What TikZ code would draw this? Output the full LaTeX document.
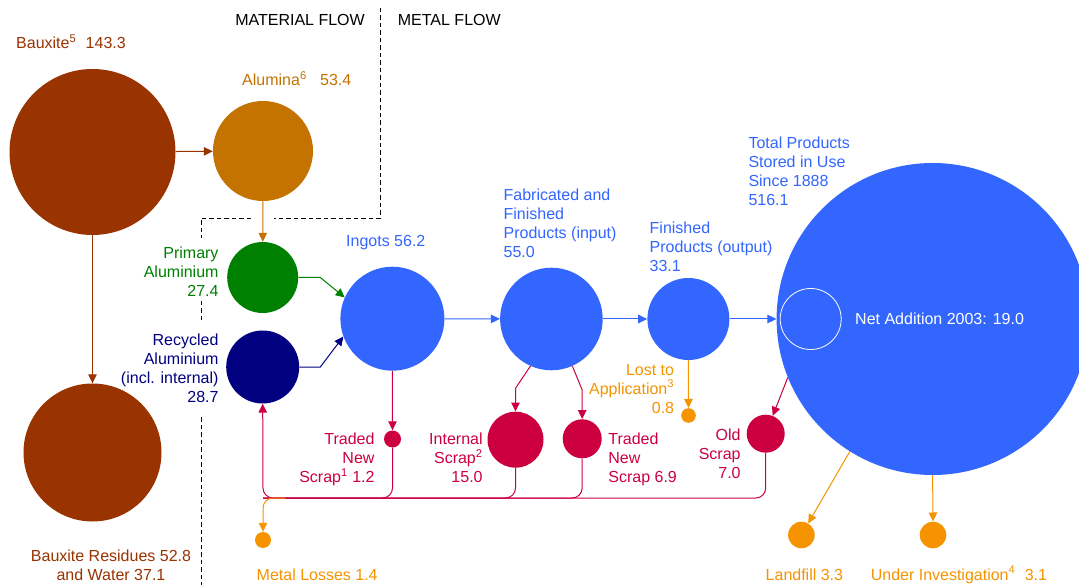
\documentclass[tikz,border=0pt]{standalone}
\usepackage{fontspec}
\setmainfont{Liberation Sans}
\usetikzlibrary{arrows.meta}

\definecolor{bauxitebrown}{HTML}{993300}
\definecolor{aluminaochre}{HTML}{C47200}
\definecolor{primarygreen}{HTML}{008000}
\definecolor{recyclednavy}{HTML}{000080}
\definecolor{metalblue}{HTML}{3366FF}
\definecolor{scrapred}{HTML}{CC0040}
\definecolor{lossorange}{HTML}{F59400}

\begin{document}
\begin{tikzpicture}[x=1pt,y=-1pt,
  font=\fontsize{16}{19}\selectfont,
  pool/.style={circle, draw=none, inner sep=0pt},
  flow/.style={line width=1pt, -{Triangle[length=9pt,width=8.5pt]}},
  link/.style={line width=1pt},
  lbl/.style={inner sep=0pt},
  divider/.style={line width=0.8pt, dash pattern=on 4.5pt off 3pt}]

\fill[white] (0,0) rectangle (1079,585);
\useasboundingbox (0,0) rectangle (1079,585);

% ---- divider between material flow and metal flow
\draw[divider] (380.5,8) -- (380.5,218) -- (274,218);
\draw[divider] (251,218) -- (201,218) -- (201,238);
\draw[divider] (201,301) -- (201,320);
\draw[divider] (201,417) -- (201,585);
\node[lbl, anchor=base east] (matflow) at (365,26) {MATERIAL FLOW};
\node[lbl, anchor=base west] (metflow) at (397.7,26) {METAL FLOW};

% ---- pools
\node[pool, fill=bauxitebrown, minimum size=166pt] (bauxite) at (92.5,152) {};
\node[pool, fill=aluminaochre, minimum size=100pt] (alumina) at (263,151) {};
\node[pool, fill=primarygreen, minimum size=71pt] (primary) at (262.7,277.5) {};
\node[pool, fill=recyclednavy, minimum size=73pt] (recycled) at (262.7,367) {};
\node[pool, fill=bauxitebrown, minimum size=138pt] (residues) at (92.5,452.5) {};
\node[pool, fill=metalblue, minimum size=104pt] (ingots) at (392.4,318.7) {};
\node[pool, fill=metalblue, minimum size=102.6pt] (fab) at (551.4,319) {};
\node[pool, fill=metalblue, minimum size=82pt] (finished) at (688.4,319) {};
\node[pool, fill=metalblue, minimum size=312pt] (stored) at (932.6,319) {};
\node[pool, draw=white, line width=0.8pt, minimum size=61pt] (netadd) at (810.7,319) {};
\node[pool, fill=scrapred, minimum size=17pt] (tradedA) at (392.5,439) {};
\node[pool, fill=scrapred, minimum size=56pt] (internal) at (515.5,439.7) {};
\node[pool, fill=scrapred, minimum size=39pt] (tradedB) at (582.2,438.8) {};
\node[pool, fill=lossorange, minimum size=14.6pt] (lost) at (688.5,415.5) {};
\node[pool, fill=scrapred, minimum size=38pt] (old) at (765.7,433.7) {};
\node[pool, fill=lossorange, minimum size=16pt] (losses) at (263,540) {};
\node[pool, fill=lossorange, minimum size=26.6pt] (landfill) at (801.4,535) {};
\node[pool, fill=lossorange, minimum size=26.6pt] (underinv) at (933,535) {};

% ---- labels
\node[lbl, anchor=base west, text=bauxitebrown] (bauxiteL) at (16,49)
  {Bauxite\textsuperscript{5}\hspace{5pt} 143.3};
\node[lbl, anchor=base west, text=aluminaochre] (aluminaL) at (242,85.5)
  {Alumina\textsuperscript{6}\hspace{9pt} 53.4};
\node[lbl, anchor=north east, align=right, text=primarygreen] (primaryL) at (218.7,246.7)
  {Primary\\Aluminium\\27.4};
\node[lbl, anchor=north east, align=right, text=recyclednavy] (recycledL) at (218.7,333.3)
  {Recycled\\Aluminium\\(incl. internal)\\28.7};
\node[lbl, anchor=north, align=center, text=bauxitebrown] (residuesL) at (111,550)
  {Bauxite Residues 52.8\\and Water 37.1};
\node[lbl, anchor=base west, text=metalblue] (ingotsL) at (346,246.5) {Ingots 56.2};
\node[lbl, anchor=north west, align=left, text=metalblue] (fabL) at (503.4,188.3)
  {Fabricated and\\Finished\\Products (input)\\55.0};
\node[lbl, anchor=north west, align=left, text=metalblue] (finishedL) at (649.5,221.7)
  {Finished\\Products (output)\\33.1};
\node[lbl, anchor=north west, align=left, text=metalblue] (storedL) at (748.3,136.7)
  {Total Products\\Stored in Use\\Since 1888\\516.1};
\node[lbl, anchor=base west, text=white] (netaddL) at (855,324.3) {Net Addition 2003: 19.0};
\node[lbl, anchor=north east, align=right, text=scrapred] (tradedAL) at (374.7,432.7)
  {Traded\\New\\Scrap\textsuperscript{1} 1.2};
\node[lbl, anchor=north east, align=right, text=scrapred] (internalL) at (482.8,432.7)
  {Internal\\Scrap\textsuperscript{2}\\15.0};
\node[lbl, anchor=north west, align=left, text=scrapred] (tradedBL) at (608.2,432.3)
  {Traded\\New\\Scrap 6.9};
\node[lbl, anchor=north east, align=right, text=lossorange] (lostL) at (674.3,364)
  {Lost to\\Application\textsuperscript{3}\\0.8};
\node[lbl, anchor=north east, align=right, text=scrapred] (oldL) at (740.8,429)
  {Old\\Scrap\\7.0};
\node[lbl, anchor=base west, text=lossorange] (lossesL) at (256.5,580) {Metal Losses 1.4};
\node[lbl, anchor=base west, text=lossorange] (landfillL) at (765.5,580) {Landfill 3.3};
\node[lbl, anchor=base west, text=lossorange] (underinvL) at (870.6,580)
  {Under Investigation\textsuperscript{4}\hspace{5pt} 3.1};

% ---- bend points
\coordinate (greenbend) at (320.3,277.5);
\coordinate (navybend) at (320.3,367);
\coordinate (intbend) at (515.5,388.3);
\coordinate (tradbend) at (582.2,390);
\coordinate (ret) at (263,498);
\coordinate (lossfork) at (285,498);

% ---- material flow
\draw[flow, bauxitebrown] (bauxite) -- (alumina);
\draw[flow, bauxitebrown] (bauxite) -- (residues);
\draw[flow, aluminaochre] (alumina) -- (primary);

% ---- metal flow
\draw[flow, primarygreen] (primary.east) -- (greenbend) -- (ingots.156);
\draw[flow, recyclednavy] (recycled.east) -- (navybend) -- (ingots.-160);
\draw[flow, metalblue] (ingots) -- (fab);
\draw[flow, metalblue] (fab) -- (finished);
\draw[flow, metalblue] (finished) -- (stored.west);

% ---- scrap streams
\draw[flow, scrapred] (ingots.south) -- (tradedA.north);
\draw[flow, scrapred] (fab.-114) -- (intbend) -- (internal.north);
\draw[flow, scrapred] (fab.-66) -- (tradbend) -- (tradedB.north);
\draw[flow, scrapred] (stored.-158) -- (old);

% ---- scrap return to recycling
\draw[flow, scrapred, rounded corners=10pt] (old.south) |- (ret) -- (recycled.south);
\draw[link, scrapred, rounded corners=10pt] (tradedA.south) |- (ret);
\draw[link, scrapred, rounded corners=10pt] (internal.south) |- (ret);
\draw[link, scrapred, rounded corners=10pt] (tradedB.south) |- (ret);
\draw[flow, lossorange, rounded corners=10pt] (lossfork) -| (losses.north);

% ---- losses
\draw[flow, lossorange] (finished.south) -- (lost.north);
\draw[flow, lossorange] (stored.-122) -- (landfill);
\draw[flow, lossorange] (stored.south) -- (underinv.north);

\end{tikzpicture}
\end{document}
